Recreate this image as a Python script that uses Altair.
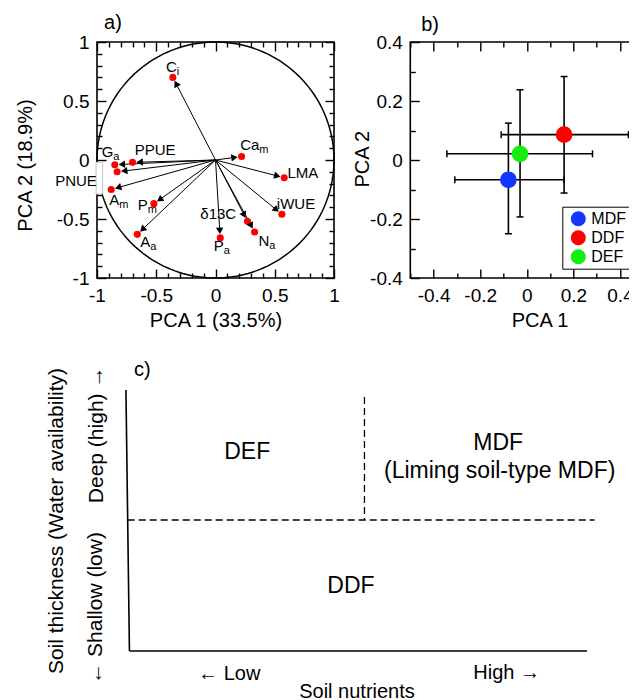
import math
import altair as alt
import pandas as pd

FONT = "Liberation Sans"

# ---------------- Panel a: PCA loadings ----------------
a_vars = ["Ci", "Cam", "LMA", "iWUE", "Na", "d13C", "Pa", "Aa", "Pm", "Am", "PNUE", "Ga", "PPUE"]
a_pc1 = [-0.36, 0.22, 0.58, 0.56, 0.33, 0.27, 0.04, -0.66, -0.52, -0.88, -0.83, -0.85, -0.70]
a_pc2 = [0.70, 0.03, -0.15, -0.46, -0.61, -0.52, -0.66, -0.63, -0.37, -0.25, -0.10, -0.04, -0.02]

plain_text = ["LMA", "iWUE", "δ13C", "PPUE", "PNUE"]
plain_x = [0.738, 0.679, 0.023, -0.509, -1.177]
plain_y = [-0.112, -0.373, -0.458, 0.087, -0.177]

sub_main = ["C", "Ca", "N", "P", "A", "P", "A", "G"]
sub_low = ["i", "m", "a", "a", "a", "m", "m", "a"]
sub_x = [-0.327, 0.370, 0.454, 0.069, -0.550, -0.572, -0.812, -0.862]
sub_y = [0.790, 0.123, -0.685, -0.728, -0.691, -0.379, -0.339, 0.066]

# faint label box left of PNUE in the original
box_x = [-1.008]
box_x2 = [-0.952]
box_y = [-0.019]
box_y2 = [-0.288]

a_labels = [-1, -0.5, 0, 0.5, 1]
a_ticks = [-1, -0.9, -0.8, -0.7, -0.6, -0.5, -0.4, -0.3, -0.2, -0.1, 0,
           0.1, 0.2, 0.3, 0.4, 0.5, 0.6, 0.7, 0.8, 0.9, 1]

# ---------------- Panel b: group means ----------------
b_groups = ["MDF", "DDF", "DEF"]
b_colors = ["#1437ff", "#ff0000", "#12ee12"]
b_x = [-0.079, 0.160, -0.029]
b_y = [-0.067, 0.086, 0.021]
b_xlo = [-0.309, -0.110, -0.343]
b_xhi = [0.160, 0.436, 0.282]
b_ylo = [-0.250, -0.112, -0.193]
b_yhi = [0.125, 0.283, 0.238]

b_xlabels = [-0.4, -0.2, 0, 0.2, 0.4]
b_xticks = [-0.5, -0.4, -0.3, -0.2, -0.1, 0, 0.1, 0.2, 0.3, 0.4, 0.5]
b_ylabels = [-0.4, -0.2, 0, 0.2, 0.4]
b_yticks = [-0.4, -0.3, -0.2, -0.1, 0, 0.1, 0.2, 0.3, 0.4]

# ---------------- Panel c: conceptual diagram ----------------
c_solid_x = [0.058, 0.065]
c_solid_y = [1.0, 0.0]
c_solid_x2 = [0.065, 0.982]
c_solid_y2 = [0.0, 0.0]
c_dash_x = [0.0615, 0.536]
c_dash_y = [0.502, 0.973]
c_dash_x2 = [0.997, 0.536]
c_dash_y2 = [0.502, 0.502]
c_big_text = ["DEF", "MDF", "(Liming soil-type MDF)", "DDF"]
c_big_x = [0.301, 0.804, 0.807, 0.509]
c_big_y = [0.762, 0.797, 0.690, 0.249]
c_small_text = ["← Low", "High →", "Soil nutrients"]
c_small_x = [0.265, 0.821, 0.521]
c_small_y = [-0.088, -0.086, -0.157]
c_rot_text = ["Soil thickness (Water availability)", "Deep (high) →", "← Shallow (low)"]
c_rot_x = [-0.080, 0.0, -0.002]
c_rot_y = [0.498, 0.828, 0.165]

# ---------------- helpers ----------------
def tsize(step10):
    return {"condition": {"test": f"abs(round(datum.value*10)) % {step10} == 0", "value": 9}, "value": 5}


def label_axis(orient, values, title, tx, ty, angle):
    return alt.Axis(orient=orient, values=values, ticks=False, tickSize=0, domain=False, grid=False,
                    labelExpr="toString(datum.value)", labelFont=FONT, labelFontSize=19,
                    labelPadding=8, labelColor="black", labelFlush=False, labelOverlap=False,
                    title=title, titleFont=FONT, titleFontSize=20, titleFontWeight="normal",
                    titleColor="black", titleX=tx, titleY=ty, titleAngle=angle,
                    titleAlign="center", titleBaseline="middle")


def tick_axis(orient, offset, values, step10):
    return alt.Axis(orient=orient, offset=offset, values=values, labels=False, domain=False,
                    grid=False, ticks=True, tickSize=tsize(step10), tickColor="black",
                    tickWidth=1.4, title=None)


# ---------------- Panel a ----------------
WA, HA = 237, 236
xa = alt.Scale(domain=[-1, 1], nice=False, zero=False)
ya = alt.Scale(domain=[-1, 1], nice=False, zero=False)

n = 181
circ = pd.DataFrame({"i": list(range(n))})
circ["cx"] = [math.cos(2 * math.pi * i / (n - 1)) for i in range(n)]
circ["cy"] = [math.sin(2 * math.pi * i / (n - 1)) for i in range(n)]

arr = pd.DataFrame({"var": a_vars, "x": a_pc1, "y": a_pc2})
length = (arr["x"] ** 2 + arr["y"] ** 2) ** 0.5
k = 1 - 0.06 / length
arr["hx"] = arr["x"] * k
arr["hy"] = arr["y"] * k
arr["x0"] = 0.0
arr["y0"] = 0.0
arr["ang"] = [math.degrees(math.atan2(dx, dy)) % 360 for dx, dy in zip(arr["x"], arr["y"])]

plain_df = pd.DataFrame({"t": plain_text, "x": plain_x, "y": plain_y})
sub_df = pd.DataFrame({"m": sub_main, "s": sub_low, "x": sub_x, "y": sub_y})
box_df = pd.DataFrame({"x": box_x, "x2": box_x2, "y": box_y, "y2": box_y2})
tag_a = pd.DataFrame({"t": ["a)"], "x": [-0.865], "y": [1.162]})

circle_layer = alt.Chart(circ).mark_line(color="black", strokeWidth=1.5).encode(
    x=alt.X("cx:Q", scale=xa, axis=label_axis("bottom", a_labels, "PCA 1 (33.5%)", WA / 2, 42.5, 0)),
    y=alt.Y("cy:Q", scale=ya, axis=label_axis("left", a_labels, "PCA 2 (18.9%)", -72, 123, 270)),
    order="i:Q",
)
box_layer = alt.Chart(box_df).mark_rect(fill="white", stroke="#c8c8c8", strokeWidth=1).encode(
    x=alt.X("x:Q", scale=xa, axis=None), x2="x2:Q",
    y=alt.Y("y:Q", scale=ya, axis=None), y2="y2:Q")
arrow_lines = alt.Chart(arr).mark_rule(color="black", strokeWidth=1).encode(
    x=alt.X("x0:Q", scale=xa, axis=tick_axis("top", -HA, a_ticks, 5)),
    x2="hx:Q",
    y=alt.Y("y0:Q", scale=ya, axis=tick_axis("right", -WA, a_ticks, 5)),
    y2="hy:Q",
)
dots = alt.Chart(arr).mark_circle(color="#ff0000", size=50, opacity=1).encode(
    x=alt.X("x:Q", scale=xa, axis=tick_axis("bottom", -HA, a_ticks, 5)),
    y=alt.Y("y:Q", scale=ya, axis=tick_axis("left", -WA, a_ticks, 5)),
)
heads = alt.Chart(arr).mark_point(shape="triangle-up", filled=True, color="black", size=55, opacity=1).encode(
    x=alt.X("hx:Q", scale=xa, axis=None),
    y=alt.Y("hy:Q", scale=ya, axis=None),
    angle=alt.Angle("ang:Q", scale=None),
)
plain_lab = alt.Chart(plain_df).mark_text(font=FONT, fontSize=15, align="center", baseline="middle", color="black").encode(
    x=alt.X("x:Q", scale=xa, axis=None), y=alt.Y("y:Q", scale=ya, axis=None), text="t:N")
main_lab = alt.Chart(sub_df).mark_text(font=FONT, fontSize=15, align="right", baseline="middle", color="black").encode(
    x=alt.X("x:Q", scale=xa, axis=None), y=alt.Y("y:Q", scale=ya, axis=None), text="m:N")
low_lab = alt.Chart(sub_df).mark_text(font=FONT, fontSize=11, align="left", baseline="middle", dy=5, color="black").encode(
    x=alt.X("x:Q", scale=xa, axis=None), y=alt.Y("y:Q", scale=ya, axis=None), text="s:N")
tag_a_l = alt.Chart(tag_a).mark_text(font=FONT, fontSize=20, align="center", baseline="middle", color="black").encode(
    x=alt.X("x:Q", scale=xa, axis=None), y=alt.Y("y:Q", scale=ya, axis=None), text="t:N")

panel_a = alt.layer(circle_layer, box_layer, arrow_lines, dots, heads, plain_lab, main_lab, low_lab,
                    tag_a_l).resolve_axis(x="independent", y="independent").properties(width=WA, height=HA)

# ---------------- Panel b ----------------
WB, HB = 233, 236
GAP_AB = 76.3
xb = alt.Scale(domain=[-0.5, 0.5], nice=False, zero=False)
yb = alt.Scale(domain=[-0.4, 0.4], nice=False, zero=False)

bdf = pd.DataFrame({"grp": b_groups, "x": b_x, "y": b_y, "xlo": b_xlo, "xhi": b_xhi,
                    "ylo": b_ylo, "yhi": b_yhi})
tag_b = pd.DataFrame({"t": ["b)"], "x": [-0.415], "y": [0.459]})

hbars = alt.Chart(bdf).mark_rule(color="black", strokeWidth=1.6).encode(
    x=alt.X("xlo:Q", scale=xb, axis=label_axis("bottom", b_xlabels, "PCA 1", 129.2, 42.5, 0)),
    x2="xhi:Q",
    y=alt.Y("y:Q", scale=yb, axis=label_axis("left", b_ylabels, "PCA 2", -47.8, 116.7, 270)),
)
vbars = alt.Chart(bdf).mark_rule(color="black", strokeWidth=1.6).encode(
    x=alt.X("x:Q", scale=xb, axis=tick_axis("top", -HB, b_xticks, 2)),
    y=alt.Y("ylo:Q", scale=yb, axis=tick_axis("right", -WB, b_yticks, 2)),
    y2="yhi:Q",
)
hcaps = alt.Chart(bdf).transform_fold(["xlo", "xhi"], as_=["end", "cx"]).mark_tick(
    orient="vertical", size=7, thickness=1.5, color="black", opacity=1).encode(
    x=alt.X("cx:Q", scale=xb, axis=None), y=alt.Y("y:Q", scale=yb, axis=None))
vcaps = alt.Chart(bdf).transform_fold(["ylo", "yhi"], as_=["end", "cy"]).mark_tick(
    orient="horizontal", size=7, thickness=1.5, color="black", opacity=1).encode(
    x=alt.X("x:Q", scale=xb, axis=None), y=alt.Y("cy:Q", scale=yb, axis=None))
points = alt.Chart(bdf).mark_circle(size=280, opacity=1).encode(
    x=alt.X("x:Q", scale=xb, axis=tick_axis("bottom", -HB, b_xticks, 2)),
    y=alt.Y("y:Q", scale=yb, axis=tick_axis("left", -WB, b_yticks, 2)),
    color=alt.Color("grp:N", scale=alt.Scale(domain=b_groups, range=b_colors),
                    legend=alt.Legend(orient="none", legendX=WA + GAP_AB + 152.0, legendY=164.7,
                                      title=None, strokeColor="black", padding=4,
                                      symbolOffset=4, symbolType="circle", symbolSize=225,
                                      symbolStrokeWidth=0, labelFont=FONT, labelFontSize=16,
                                      labelColor="black", rowPadding=3, labelOffset=5)),
)
tag_b_l = alt.Chart(tag_b).mark_text(font=FONT, fontSize=20, align="center", baseline="middle", color="black").encode(
    x=alt.X("x:Q", scale=xb, axis=None), y=alt.Y("y:Q", scale=yb, axis=None), text="t:N")

panel_b = alt.layer(hbars, vbars, hcaps, vcaps, points, tag_b_l).resolve_axis(
    x="independent", y="independent").properties(width=WB, height=HB)

# ---------------- Panel c ----------------
WC, HC = 499, 261
xc = alt.Scale(domain=[0, 1], nice=False, zero=False)
yc = alt.Scale(domain=[0, 1], nice=False, zero=False)

solid_df = pd.DataFrame({"x": c_solid_x, "y": c_solid_y, "x2": c_solid_x2, "y2": c_solid_y2})
dash_df = pd.DataFrame({"x": c_dash_x, "y": c_dash_y, "x2": c_dash_x2, "y2": c_dash_y2})
big_df = pd.DataFrame({"t": c_big_text, "x": c_big_x, "y": c_big_y})
small_df = pd.DataFrame({"t": c_small_text, "x": c_small_x, "y": c_small_y})
rot_df = pd.DataFrame({"t": c_rot_text, "x": c_rot_x, "y": c_rot_y})
tag_c = pd.DataFrame({"t": ["c)"], "x": [0.091], "y": [1.077]})


def xy(xf="x", yf="y"):
    return dict(x=alt.X(f"{xf}:Q", scale=xc, axis=None), y=alt.Y(f"{yf}:Q", scale=yc, axis=None))


solid = alt.Chart(solid_df).mark_rule(color="black", strokeWidth=1.6).encode(x2="x2:Q", y2="y2:Q", **xy())
dashed = alt.Chart(dash_df).mark_rule(color="black", strokeWidth=1.3, strokeDash=[7, 4]).encode(
    x2="x2:Q", y2="y2:Q", **xy())
big = alt.Chart(big_df).mark_text(font=FONT, fontSize=23, align="center", baseline="middle", color="black").encode(
    text="t:N", **xy())
small = alt.Chart(small_df).mark_text(font=FONT, fontSize=20, align="center", baseline="middle", color="black").encode(
    text="t:N", **xy())
rot = alt.Chart(rot_df).mark_text(font=FONT, fontSize=21, align="center", baseline="middle", angle=270,
                                  color="black").encode(text="t:N", **xy())
tag_c_l = alt.Chart(tag_c).mark_text(font=FONT, fontSize=20, align="center", baseline="middle", color="black").encode(
    text="t:N", **xy())

panel_c = alt.layer(solid, dashed, big, small, rot, tag_c_l).properties(
    width=WC, height=HC, view=alt.ViewBackground(stroke=None))

top = alt.hconcat(panel_a, panel_b, spacing=GAP_AB, bounds="flush")
chart = alt.vconcat(top, panel_c, spacing=348, bounds="flush").properties(
    padding={"left": 6, "top": 4, "right": -16, "bottom": 0}
).configure_view(stroke="black", strokeWidth=1.6)

chart.save("out.html", embed_options={"renderer": "svg", "actions": False})
